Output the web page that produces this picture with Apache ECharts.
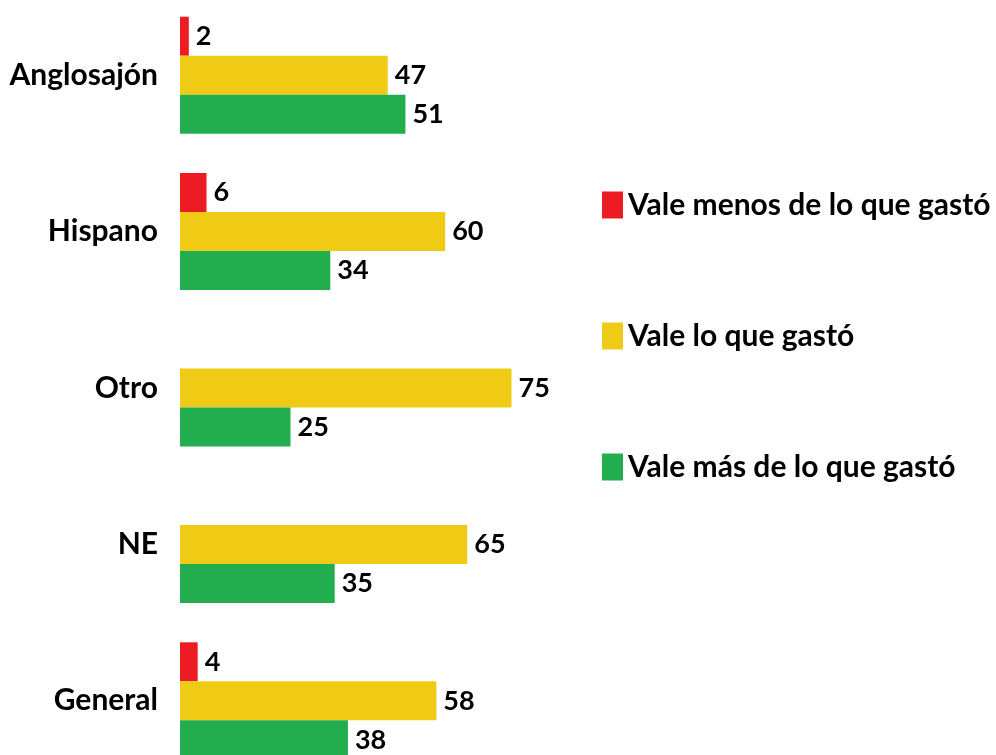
<!DOCTYPE html>
<html>
<head>
<meta charset="utf-8">
<script src="https://cdn.jsdelivr.net/npm/echarts@6/dist/echarts.min.js"></script>
<style>
  html, body { margin: 0; padding: 0; background: #fff; }
  #chart { width: 996px; height: 755px; }
</style>
</head>
<body>
<div id="chart"></div>
<script>
// categorías y valores (%)
const categories = ['Anglosajón', 'Hispano', 'Otro', 'NE', 'General'];
const seriesNames = ['Vale menos de lo que gastó', 'Vale lo que gastó', 'Vale más de lo que gastó'];
const valeMenos = [2, 6, null, null, 4];
const valeIgual = [47, 60, 75, 65, 58];
const valeMas = [51, 34, 25, 35, 38];
const colors = ['#ED1C24', '#EFCB16', '#22AD4E'];

const font = 'Lato, "Open Sans", sans-serif';

const makeSeries = (name, data, color) => ({
  name: name,
  type: 'bar',
  data: data,
  barWidth: 39,
  barGap: '0%',
  itemStyle: { color: color },
  label: {
    show: true,
    position: 'right',
    distance: 7,
    color: '#000',
    fontFamily: font,
    fontWeight: 'bold',
    fontSize: 27
  }
});

const chart = echarts.init(document.getElementById('chart'));
chart.setOption({
  animation: false,
  backgroundColor: '#fff',
  legend: {
    orient: 'vertical',
    left: 597,
    top: 185,
    itemWidth: 21,
    itemHeight: 27,
    itemGap: 101,
    icon: 'rect',
    textStyle: {
      color: '#000',
      fontFamily: font,
      fontWeight: 'bold',
      fontSize: 30
    },
    data: seriesNames
  },
  grid: {
    left: 180,
    top: -3,
    width: 442,
    height: 782,
    outerBoundsMode: 'none'
  },
  xAxis: {
    type: 'value',
    min: 0,
    max: 100,
    show: false
  },
  yAxis: {
    type: 'category',
    inverse: true,
    data: categories,
    axisLine: { show: false },
    axisTick: { show: false },
    splitLine: { show: false },
    axisLabel: {
      margin: 22,
      color: '#000',
      fontFamily: font,
      fontWeight: 'bold',
      fontSize: 30
    }
  },
  series: [
    makeSeries(seriesNames[0], valeMenos, colors[0]),
    makeSeries(seriesNames[1], valeIgual, colors[1]),
    makeSeries(seriesNames[2], valeMas, colors[2])
  ]
});
</script>
</body>
</html>
